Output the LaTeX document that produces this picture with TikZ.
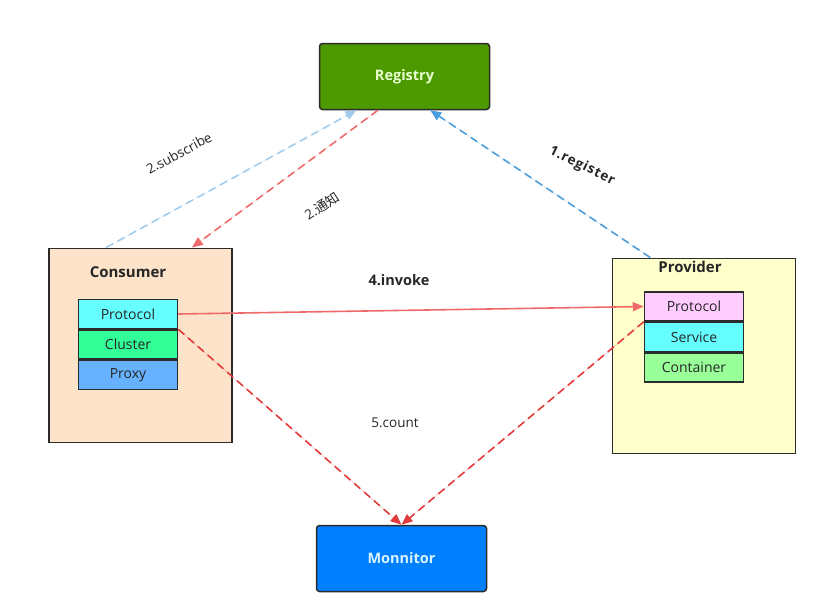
\documentclass[tikz,border=0pt]{standalone}
\usepackage{fontspec}
\setmainfont{Open Sans}
\newfontfamily\cjk{Noto Sans CJK SC}
\usetikzlibrary{arrows.meta,calc}
\definecolor{reggreen}{HTML}{4D9900}
\definecolor{regtext}{HTML}{E8FFD0}
\definecolor{monblue}{HTML}{007FFF}
\definecolor{montext}{HTML}{D8F4FF}
\definecolor{consfill}{HTML}{FDE3CA}
\definecolor{provfill}{HTML}{FFFFCC}
\definecolor{cyanfill}{HTML}{66FFFF}
\definecolor{clusterfill}{HTML}{33FF99}
\definecolor{proxyfill}{HTML}{66B2FF}
\definecolor{pinkfill}{HTML}{FFCCFF}
\definecolor{contfill}{HTML}{99FF99}
\definecolor{edge}{HTML}{2B2B2B}
\definecolor{lightblue}{HTML}{A0CCEE}
\definecolor{midblue}{HTML}{4A9EDD}
\definecolor{softred}{HTML}{EE6A6A}
\definecolor{deepred}{HTML}{E03A3A}
\definecolor{txt}{HTML}{262626}
\tikzset{
  bigbox/.style={draw=edge, line width=1.5pt, rounded corners=3pt, minimum width=170pt, minimum height=66pt, font=\fontsize{14.5}{16}\selectfont\bfseries},
  container/.style={draw=edge, line width=1.5pt, anchor=north west},
  layer/.style={draw=edge, line width=1.5pt, minimum width=99pt, minimum height=29pt, inner sep=0pt, font=\fontsize{14}{16}\selectfont, text=txt},
  title/.style={font=\fontsize{15}{17}\selectfont\bfseries, text=txt},
  lbl/.style={font=\fontsize{13.5}{15}\selectfont, text=txt},
  tip/.style={-{Triangle[length=11pt,width=9pt]}},
  dsh/.style={line width=1.6pt, dash pattern=on 8pt off 5pt},
}
\begin{document}
\begin{tikzpicture}[x=1pt,y=-1pt]
\useasboundingbox (0,0) rectangle (821,600);
% main boxes
\node[bigbox, fill=reggreen, text=regtext] (reg) at (404.5,76.5) {Registry};
\node[bigbox, fill=monblue, text=montext] (mon) at (401.5,558.5) {Monnitor};
\node[container, fill=consfill, minimum width=183pt, minimum height=194pt] (cons) at (48,247.5) {};
\node[container, fill=provfill, minimum width=183pt, minimum height=195pt] (prov) at (611.5,257.5) {};
\node[title] (constitle) at (128,272) {Consumer};
\node[title] (provtitle) at (690,267) {Provider};
% consumer layers
\node[layer, fill=cyanfill] (cprot) at (128,314) {Protocol};
\node[layer, fill=clusterfill, anchor=north] (cclus) at (cprot.south) {Cluster};
\node[layer, fill=proxyfill, anchor=north] (cprox) at (cclus.south) {Proxy};
% provider layers
\node[layer, fill=pinkfill] (pprot) at (694,306.5) {Protocol};
\node[layer, fill=cyanfill, anchor=north] (pserv) at (pprot.south) {Service};
\node[layer, fill=contfill, anchor=north] (pcont) at (pserv.south) {Container};
% anchor coordinates
\coordinate (subA) at ($(cons.north west)!0.315!(cons.north east)$);
\coordinate (subB) at ($(reg.south west)!0.22!(reg.south east)$);
\coordinate (notA) at ($(reg.south west)!0.345!(reg.south east)$);
\coordinate (notB) at ($(cons.north west)!0.78!(cons.north east)$);
\coordinate (regA) at ($(prov.north west)!0.21!(prov.north east)$);
\coordinate (regB) at ($(reg.south west)!0.65!(reg.south east)$);
% connectors
\draw[dsh, tip, draw=lightblue, fill=lightblue] (subA) -- (subB);
\draw[dsh, tip, draw=softred, fill=softred] (notA) -- (notB);
\draw[dsh, tip, draw=midblue, fill=midblue] (regA) -- (regB);
\draw[line width=1.6pt, tip, draw=softred, fill=softred] (cprot.east) -- (pprot.west);
\draw[dsh, tip, draw=deepred, fill=deepred] (cprot.south east) -- (mon.north);
\draw[dsh, tip, draw=deepred, fill=deepred] (pprot.south west) -- (mon.north);
% labels
\node[lbl, rotate=28] (lsub) at (179,153) {2.subscribe};
\node[lbl, rotate=33] (lnot) at (322,206) {2.{\cjk 通知}};
\node[lbl, rotate=-26, font=\fontsize{13.5}{15}\selectfont\bfseries\addfontfeature{LetterSpace=6}] (lreg) at (582,166) {1.register};
\node[lbl, font=\fontsize{14.5}{16}\selectfont\bfseries] (linv) at (399,280) {4.invoke};
\node[lbl] (lcnt) at (395,423) {5.count};
\end{tikzpicture}
\end{document}
